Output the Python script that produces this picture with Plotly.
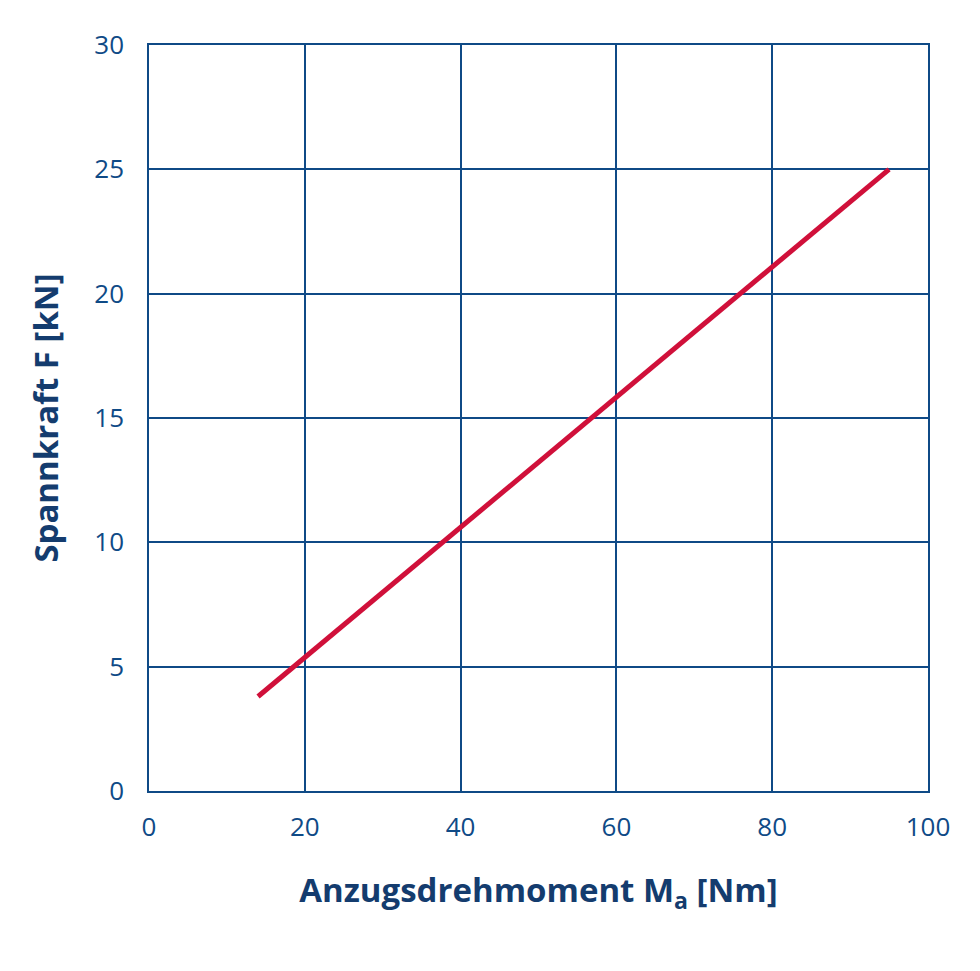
import plotly.graph_objects as go

torque = [14, 95]
force = [3.8, 25]

x_ticks = [0, 20, 40, 60, 80, 100]
y_ticks = [0, 5, 10, 15, 20, 25, 30]

blue = "#0f4a86"
title_blue = "#143c6e"

fig = go.Figure()
fig.add_trace(go.Scatter(x=torque, y=force, mode="lines",
                         line=dict(color="#d0103a", width=5), showlegend=False))

axis_common = dict(showgrid=True, gridcolor=blue, gridwidth=1.5,
                   showline=True, linecolor=blue, linewidth=1.5, mirror=True,
                   zeroline=False, ticks="", tickfont=dict(family="Open Sans", size=26, color=blue))

fig.update_layout(
    width=980, height=971,
    margin=dict(l=141, r=60, t=37, b=188),
    plot_bgcolor="white", paper_bgcolor="white",
    xaxis=dict(range=[0, 100], tickvals=x_ticks, ticklabelstandoff=12,
               title=dict(text="Anzugsdrehmoment M<sub>a</sub> [Nm]", standoff=36,
                          font=dict(family="Open Sans", size=33, color=title_blue, weight="bold")),
               **axis_common),
    yaxis=dict(range=[0, 30], tickvals=y_ticks, ticklabelstandoff=18,
               title=dict(text="Spannkraft F [kN]", standoff=26,
                          font=dict(family="Open Sans", size=33, color=title_blue, weight="bold")),
               **axis_common),
)

fig.write_html("out.html")
